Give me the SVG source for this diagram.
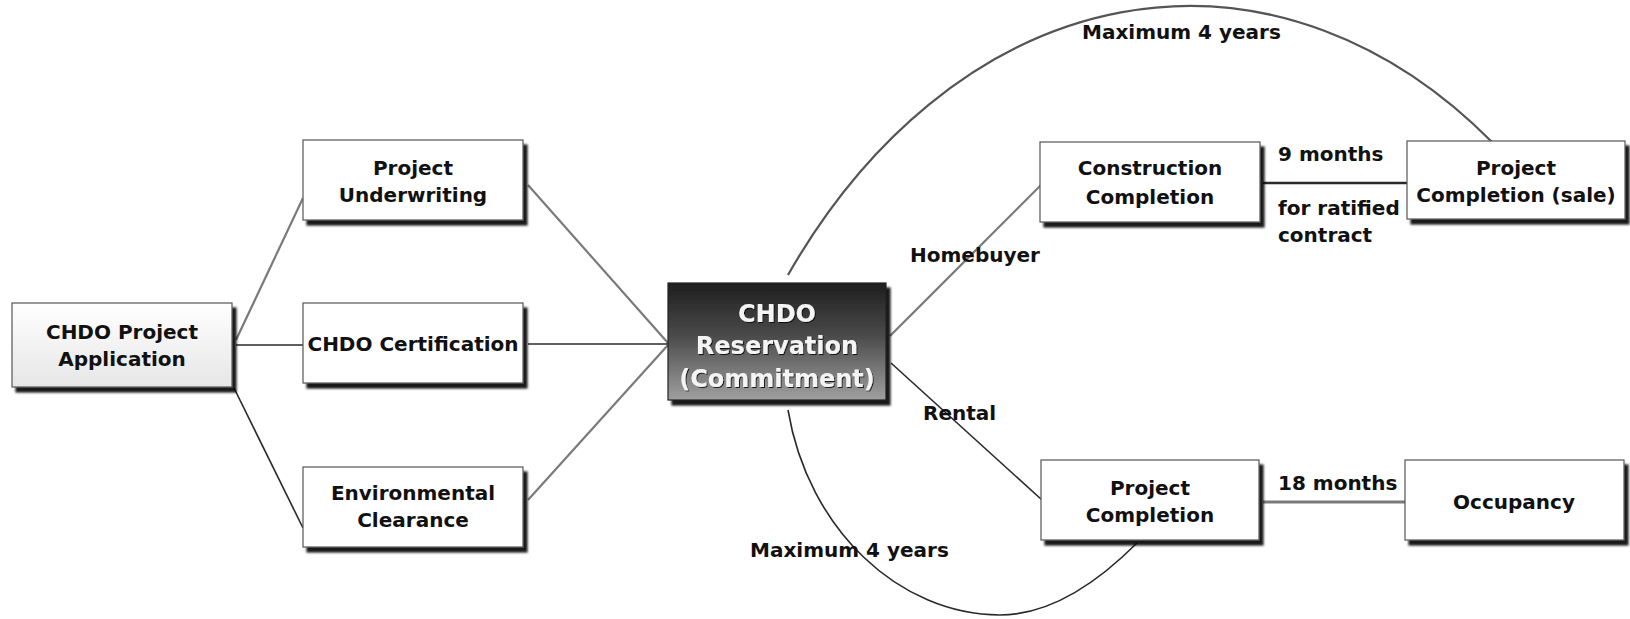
<svg xmlns="http://www.w3.org/2000/svg" width="1630" height="619" viewBox="0 0 1630 619">
  <defs>
    <linearGradient id="resGrad" x1="0" y1="0" x2="0" y2="1">
      <stop offset="0" stop-color="#1e1e1e"/>
      <stop offset="0.45" stop-color="#4a4a4a"/>
      <stop offset="1" stop-color="#a0a0a0"/>
    </linearGradient>
    <linearGradient id="appGrad" x1="0" y1="0" x2="0" y2="1">
      <stop offset="0" stop-color="#ffffff"/>
      <stop offset="1" stop-color="#e6e6e6"/>
    </linearGradient>
    <filter id="shadow" x="-10%" y="-10%" width="125%" height="130%">
      <feDropShadow dx="4" dy="5" stdDeviation="1" flood-color="#000" flood-opacity="0.9"/>
    </filter>
    <filter id="txtShadow" x="-5%" y="-20%" width="110%" height="140%">
      <feDropShadow dx="1" dy="1" stdDeviation="0.6" flood-color="#000" flood-opacity="0.8"/>
    </filter>
  </defs>
  <style>
    .box { fill: #ffffff; stroke: #555555; stroke-width: 1.2; }
    .t { font-family: "DejaVu Sans", Verdana, sans-serif; font-weight: bold; font-size: 20px; fill: #111111; text-anchor: middle; }
    .lbl { font-family: "DejaVu Sans", Verdana, sans-serif; font-weight: bold; font-size: 20px; fill: #111111; }
    .rt { font-family: "DejaVu Sans", Verdana, sans-serif; font-weight: bold; font-size: 24px; fill: #f4f4f4; text-anchor: middle; }
    .dk { fill: none; stroke: #2a2a2a; stroke-width: 1.6; }
    .gr { fill: none; stroke: #7a7a7a; stroke-width: 2.2; }
  </style>
  <rect width="1630" height="619" fill="#ffffff"/>

  <g id="connectors">
    <path class="gr" d="M236,340 L303,198"/>
    <path class="dk" d="M236,345 L303,345"/>
    <path class="dk" d="M234,388 L303,528"/>
    <path class="gr" d="M528,185 L668,343"/>
    <path class="dk" d="M528,344 L668,344"/>
    <path class="gr" d="M528,500 L668,345"/>
    <path class="gr" d="M890,336 L1042,184"/>
    <path class="dk" d="M891,363 L1042,500"/>
    <path class="dk" d="M1263,183 L1407,183" style="stroke-width:2.6"/>
    <path class="gr" d="M1263,502 L1405,502" style="stroke-width:3"/>
    <path class="gr" d="M788,275 A510,700 0 0 1 1493,143" style="stroke:#555"/>
    <path class="dk" d="M788,410 C808,530 900,615 1000,615 C1050,615 1097,583 1137,543"/>
  </g>

  <g id="labels">
    <text class="lbl" x="1082" y="39">Maximum 4 years</text>
    <text class="lbl" x="750" y="557">Maximum 4 years</text>
    <text class="lbl" x="910" y="262">Homebuyer</text>
    <text class="lbl" x="923" y="420">Rental</text>
    <text class="lbl" x="1278" y="161">9 months</text>
    <text class="lbl" x="1278" y="215">for ratified</text>
    <text class="lbl" x="1278" y="242">contract</text>
    <text class="lbl" x="1278" y="490">18 months</text>
  </g>

  <g id="app">
    <rect x="12" y="303" width="220" height="84" fill="url(#appGrad)" stroke="#555" stroke-width="1.2" filter="url(#shadow)"/>
    <text class="t" x="122" y="339">CHDO Project</text>
    <text class="t" x="122" y="366">Application</text>
  </g>

  <g id="underwriting">
    <rect class="box" x="303" y="140" width="220" height="80" filter="url(#shadow)"/>
    <text class="t" x="413" y="175">Project</text>
    <text class="t" x="413" y="202">Underwriting</text>
  </g>

  <g id="certification">
    <rect class="box" x="303" y="303" width="220" height="80" filter="url(#shadow)"/>
    <text class="t" x="413" y="351">CHDO Certification</text>
  </g>

  <g id="environmental">
    <rect class="box" x="303" y="467" width="220" height="80" filter="url(#shadow)"/>
    <text class="t" x="413" y="500">Environmental</text>
    <text class="t" x="413" y="527">Clearance</text>
  </g>

  <g id="reservation">
    <rect x="668" y="283" width="218" height="117" fill="url(#resGrad)" stroke="#222" stroke-width="1.2" filter="url(#shadow)"/>
    <g filter="url(#txtShadow)">
      <text class="rt" x="777" y="322">CHDO</text>
      <text class="rt" x="777" y="354">Reservation</text>
      <text class="rt" x="777" y="387">(Commitment)</text>
    </g>
  </g>

  <g id="construction">
    <rect class="box" x="1040" y="142" width="220" height="80" filter="url(#shadow)"/>
    <text class="t" x="1150" y="175">Construction</text>
    <text class="t" x="1150" y="204">Completion</text>
  </g>

  <g id="completion-sale">
    <rect class="box" x="1407" y="141" width="218" height="78" filter="url(#shadow)"/>
    <text class="t" x="1516" y="175">Project</text>
    <text class="t" x="1516" y="202">Completion (sale)</text>
  </g>

  <g id="project-completion">
    <rect class="box" x="1041" y="460" width="218" height="80" filter="url(#shadow)"/>
    <text class="t" x="1150" y="495">Project</text>
    <text class="t" x="1150" y="522">Completion</text>
  </g>

  <g id="occupancy">
    <rect class="box" x="1405" y="460" width="219" height="80" filter="url(#shadow)"/>
    <text class="t" x="1514" y="509">Occupancy</text>
  </g>
</svg>
